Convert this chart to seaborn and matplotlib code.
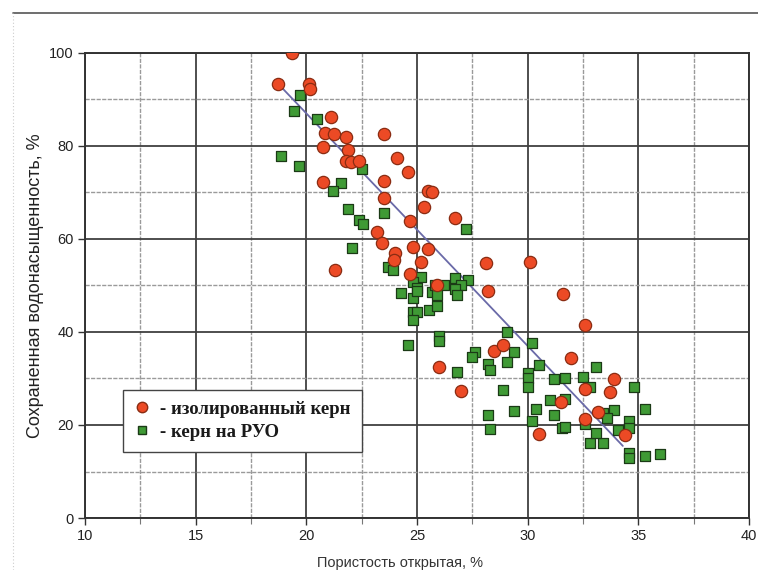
import matplotlib
matplotlib.use("Agg")
import matplotlib.pyplot as plt
import seaborn as sns
import pandas as pd
from matplotlib.lines import Line2D
from matplotlib.ticker import MultipleLocator

# Isolated core samples: open porosity (%) and retained water saturation (%)
iso_porosity = [19.35, 18.7, 20.1, 20.15, 21.1, 20.85, 21.25, 21.8, 20.75, 21.9,
                21.8, 22.0, 22.4, 20.75, 21.3, 23.5, 24.1, 24.6, 23.5, 23.5,
                25.5, 25.7, 25.3, 24.7, 26.7, 23.2, 23.4, 24.8, 25.5, 24.0,
                23.96, 25.2, 24.7, 25.9, 28.1, 30.1, 28.2, 28.5, 28.9, 26.0,
                27.0, 31.6, 32.6, 31.96, 33.9, 32.6, 33.7, 31.5, 33.2, 32.6,
                30.5, 34.4]
iso_saturation = [100.0, 93.3, 93.3, 92.2, 86.2, 82.8, 82.6, 81.9, 79.8, 79.1,
                  76.8, 76.6, 76.8, 72.3, 53.3, 82.6, 77.4, 74.4, 72.5, 68.8,
                  70.3, 70.0, 66.9, 63.9, 64.5, 61.5, 59.1, 58.3, 57.8, 57.0,
                  55.5, 55.1, 52.5, 50.1, 54.8, 55.1, 48.8, 35.9, 37.2, 32.5,
                  27.3, 48.2, 41.5, 34.5, 29.9, 27.7, 27.1, 24.9, 22.7, 21.2,
                  18.1, 17.8]

# Core drilled on oil-based mud
obm_porosity = [19.7, 19.45, 20.5, 18.86, 19.67, 22.5, 21.57, 21.2, 21.9, 22.4,
                22.55, 22.06, 23.5, 27.2, 23.7, 23.9,
                25.2, 24.8, 25.0, 26.7, 27.3, 27.0, 26.7, 26.8, 26.2, 25.7,
                25.9, 24.3, 24.8, 25.0, 25.8, 25.55, 25.9, 24.8, 25.0, 24.8,
                24.6, 26.0, 26.0,
                29.07, 30.2, 29.4, 27.6, 27.5, 29.07, 28.2, 28.3, 26.8, 30.5,
                30.0, 30.0, 30.0, 31.2, 31.7, 32.5, 33.1, 32.8, 28.9, 31.0,
                31.7, 30.4, 29.4, 28.2, 28.3, 31.2, 30.2, 31.55, 31.7, 32.6,
                32.8, 33.4, 33.1, 34.8, 33.9, 35.3, 33.4, 33.6, 34.1, 34.6,
                34.6, 34.6, 34.6, 35.3, 36.0]
obm_saturation = [91.0, 87.5, 85.8, 77.9, 75.7, 75.0, 72.0, 70.3, 66.5, 64.0,
                  63.2, 58.0, 65.6, 62.1, 54.0, 53.3,
                  51.9, 50.8, 49.5, 51.6, 51.2, 50.0, 49.2, 47.9, 50.0, 48.6,
                  47.9, 48.4, 47.3, 48.8, 50.1, 44.7, 45.5, 44.3, 44.3, 42.6,
                  37.1, 39.2, 38.1,
                  40.0, 37.6, 35.6, 35.6, 34.7, 33.6, 33.2, 31.9, 31.5, 33.0,
                  31.2, 30.0, 28.1, 29.8, 30.2, 30.4, 32.4, 28.2, 27.6, 25.4,
                  25.6, 23.5, 23.0, 22.1, 19.1, 22.1, 20.8, 19.4, 19.5, 20.2,
                  16.1, 16.1, 18.3, 28.2, 23.2, 23.4, 22.6, 21.6, 18.9, 20.9,
                  19.4, 14.0, 12.9, 13.3, 13.8]

# Trend line end points
trend_porosity = [18.8, 34.3]
trend_saturation = [93.0, 15.5]

x_ticks = [10, 15, 20, 25, 30, 35, 40]
y_ticks = [0, 20, 40, 60, 80, 100]

label_iso = "- изолированный керн"
label_obm = "- керн на РУО"
x_title = "Пористость открытая, %"
y_title = "Сохраненная водонасыщенность, %"

sns.set_theme(style="white")
plt.rcParams["font.family"] = ["Liberation Sans", "DejaVu Sans"]

fig = plt.figure(figsize=(7.58, 5.70), dpi=100)
ax = fig.add_axes([0.1121, 0.0912, 0.876, 0.816])

df_iso = pd.DataFrame({"x": iso_porosity, "y": iso_saturation})
df_obm = pd.DataFrame({"x": obm_porosity, "y": obm_saturation})

ax.set_xlim(10, 40)
ax.set_ylim(0, 100)

# Grid: major lines every 5 / 20, minor halfway between
ax.xaxis.set_major_locator(MultipleLocator(5))
ax.xaxis.set_minor_locator(MultipleLocator(2.5))
ax.yaxis.set_major_locator(MultipleLocator(20))
ax.yaxis.set_minor_locator(MultipleLocator(10))
ax.grid(which="major", color="#404040", linewidth=1.3, linestyle="-")
ax.grid(which="minor", color="#9a9a9a", linewidth=1.0, linestyle=(0, (3, 1)))
ax.set_axisbelow(True)

sns.lineplot(x=trend_porosity, y=trend_saturation, ax=ax, color="#6a6aa8",
             linewidth=1.3, zorder=2)

sns.scatterplot(data=df_obm, x="x", y="y", ax=ax, marker="s", s=42,
                color="#3f9a35", edgecolor="#1b3a16", linewidth=0.9, zorder=3)
sns.scatterplot(data=df_iso, x="x", y="y", ax=ax, marker="o", s=78,
                color="#ec4a25", edgecolor="#8a2c12", linewidth=0.9, zorder=4)

ax.set_xticks(x_ticks)
ax.set_yticks(y_ticks)
ax.set_xticklabels([str(t) for t in x_ticks])
ax.set_yticklabels([str(t) for t in y_ticks])
ax.tick_params(which="major", direction="out", length=5, width=1.0,
               color="#333333", labelsize=10.5, labelcolor="#222222", pad=3,
               bottom=True, left=True)
ax.tick_params(which="minor", direction="out", length=4, width=0.8,
               color="#777777", bottom=True, left=False)

for side in ["left", "bottom", "top", "right"]:
    ax.spines[side].set_visible(True)
    ax.spines[side].set_color("#333333")
    ax.spines[side].set_linewidth(1.4)

ax.set_xlabel(x_title, fontsize=10.5, color="#333333")
ax.set_ylabel(y_title, fontsize=13, color="#222222")
ax.xaxis.set_label_coords(0.475, -0.082)
ax.yaxis.set_label_coords(-0.062, 0.5)

handles = [
    Line2D([], [], marker="o", linestyle="none", markersize=7.5,
           markerfacecolor="#ec4a25", markeredgecolor="#8a2c12"),
    Line2D([], [], marker="s", linestyle="none", markersize=5.5,
           markerfacecolor="#3f9a35", markeredgecolor="#1b3a16"),
]
leg = ax.legend(handles, [label_iso, label_obm], loc="lower left",
                bbox_to_anchor=(0.057, 0.142), borderaxespad=0,
                frameon=True, fancybox=False, framealpha=1,
                edgecolor="#444444", handlelength=0.8, handletextpad=0.6,
                borderpad=0.6, labelspacing=0.3,
                prop={"family": ["Liberation Serif"], "size": 13.5,
                      "weight": "bold"})
leg.get_frame().set_linewidth(1.0)
for t in leg.get_texts():
    t.set_color("#1a1a1a")

# Outer frame line across the top and left of the figure
fig.add_artist(Line2D([0.017, 1.0], [0.977, 0.977], transform=fig.transFigure,
                      color="#555555", linewidth=1.2))
fig.add_artist(Line2D([0.017, 0.017], [0.0, 0.977], transform=fig.transFigure,
                      color="#cccccc", linewidth=0.8, linestyle=(0, (1, 2))))

fig.savefig("out.png", dpi=100, facecolor="white")
